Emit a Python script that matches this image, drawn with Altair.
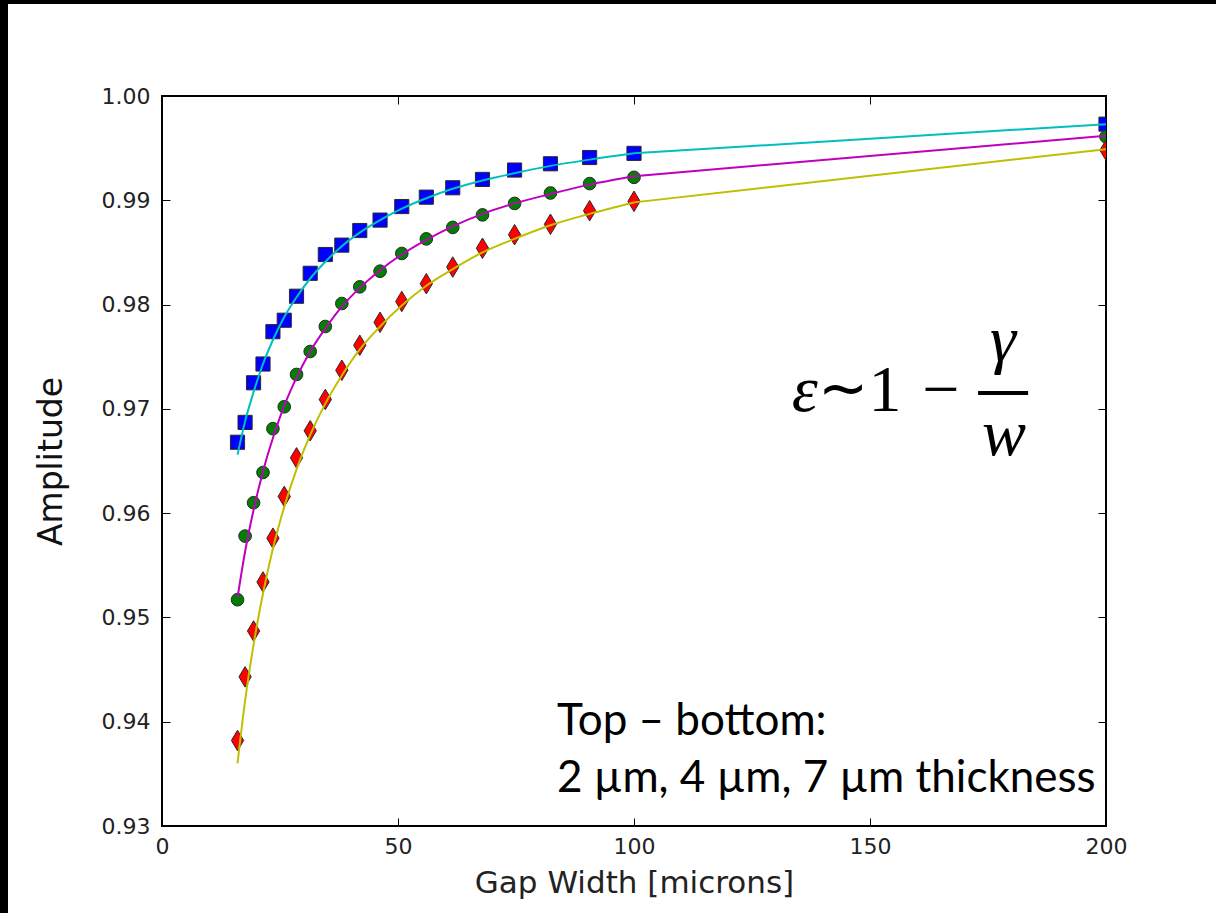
import altair as alt
import pandas as pd

# ---- data ----
gap_width = [16, 17.6, 19.4, 21.4, 23.5, 25.9, 28.5, 31.4, 34.6, 38.1, 41.9,
             46.2, 50.8, 56.0, 61.6, 67.9, 74.7, 82.3, 90.6, 100, 200]
amp_2um = [0.9668, 0.9687, 0.9725, 0.9743, 0.9774, 0.9785, 0.9808, 0.9830, 0.9848, 0.9857, 0.9871,
           0.9881, 0.9894, 0.9903, 0.9912, 0.9920, 0.9929, 0.9935, 0.9941, 0.9945, 0.9973]
amp_4um = [0.9517, 0.9578, 0.9610, 0.9639, 0.9681, 0.9702, 0.9733, 0.9755, 0.9779, 0.9801, 0.9817,
           0.9832, 0.9849, 0.9863, 0.9874, 0.9886, 0.9897, 0.9907, 0.9916, 0.9922, 0.9961]
amp_7um = [0.9382, 0.9443, 0.9487, 0.9534, 0.9576, 0.9616, 0.9653, 0.9679, 0.9709, 0.9737, 0.9761,
           0.9783, 0.9803, 0.9820, 0.9836, 0.9854, 0.9867, 0.9877, 0.9890, 0.9899, 0.9948]
fit_2um = [0.9656, 0.9688, 0.9716, 0.9743, 0.9766, 0.9788, 0.9807, 0.9825, 0.9841, 0.9856, 0.9869,
           0.9881, 0.9892, 0.9902, 0.9911, 0.9919, 0.9926, 0.9933, 0.9939, 0.9945, 0.9973]
fit_4um = [0.9519, 0.9563, 0.9603, 0.9640, 0.9672, 0.9703, 0.9730, 0.9755, 0.9777, 0.9798, 0.9816,
           0.9833, 0.9848, 0.9862, 0.9875, 0.9887, 0.9897, 0.9906, 0.9915, 0.9923, 0.9962]
fit_7um = [0.9360, 0.9420, 0.9474, 0.9523, 0.9566, 0.9606, 0.9642, 0.9675, 0.9705, 0.9732, 0.9757,
           0.9779, 0.9799, 0.9818, 0.9834, 0.9850, 0.9863, 0.9876, 0.9887, 0.9898, 0.9949]

x_ticks = [0, 50, 100, 150, 200]
y_ticks = [0.93, 0.94, 0.95, 0.96, 0.97, 0.98, 0.99, 1.00]

marker_shapes = ["square", "circle", "M0,-1L0.6,0L0,1L-0.6,0Z"]
marker_fills = ["#0000ff", "#008000", "#ff0000"]
marker_sizes = [200, 160, 420]
line_colors = ["#00bfbf", "#bf00bf", "#bfbf00"]

note_line1 = "Top \u2013 bottom:"
note_line2 = "2 \u00b5m, 4 \u00b5m, 7 \u00b5m thickness"

W, H = 944, 730
xs = alt.Scale(domain=[0, 200], nice=False, zero=False)
ys = alt.Scale(domain=[0.93, 1.00], nice=False, zero=False)

common_axis = dict(offset=-8, tickSize=8, tickColor="black", tickWidth=1,
                   domain=False, grid=False)
ax_bottom = alt.Axis(orient="bottom", values=x_ticks, format="d", labelFlush=False,
                     labelFont="DejaVu Sans", labelFontSize=22, labelColor="#222",
                     labelPadding=10, title="Gap Width [microns]", titleFont="DejaVu Sans",
                     titleFontSize=31, titleFontWeight="normal", titleColor="#222",
                     titlePadding=11, **common_axis)
ax_left = alt.Axis(orient="left", values=y_ticks, format=".2f",
                   labelFont="DejaVu Sans", labelFontSize=22, labelColor="#222",
                   labelPadding=12, title="Amplitude", titleFont="DejaVu Sans",
                   titleFontSize=33, titleFontWeight="normal", titleColor="#111",
                   titlePadding=33, **common_axis)
ax_top = alt.Axis(orient="top", values=x_ticks, labels=False, title=None, **common_axis)
ax_right = alt.Axis(orient="right", values=y_ticks, labels=False, title=None, **common_axis)

series = [amp_2um, amp_4um, amp_7um]
fits = [fit_2um, fit_4um, fit_7um]

layers = []
for i, vals in enumerate(series):
    df = pd.DataFrame({"gap": gap_width, "amp": vals})
    layers.append(
        alt.Chart(df).mark_point(filled=True, shape=marker_shapes[i], size=marker_sizes[i],
                                 fill=marker_fills[i], stroke="#2a2a2a", strokeWidth=1,
                                 opacity=1, clip=True)
        .encode(x=alt.X("gap:Q", scale=xs, axis=ax_bottom if i == 0 else None),
                y=alt.Y("amp:Q", scale=ys, axis=ax_left if i == 0 else None))
    )
for i, vals in enumerate(fits):
    df = pd.DataFrame({"gap": gap_width, "amp": vals})
    # smooth fitted curve over the dense range
    layers.append(
        alt.Chart(df).transform_filter(alt.datum.gap <= 100)
        .mark_line(color=line_colors[i], strokeWidth=2, interpolate="monotone", clip=True)
        .encode(x=alt.X("gap:Q", scale=xs, axis=ax_top if i == 0 else None),
                y=alt.Y("amp:Q", scale=ys, axis=ax_right if i == 0 else None))
    )
    # straight segment to the last sample
    layers.append(
        alt.Chart(df).transform_filter(alt.datum.gap >= 100)
        .mark_line(color=line_colors[i], strokeWidth=2, clip=True)
        .encode(x=alt.X("gap:Q", scale=xs, axis=None),
                y=alt.Y("amp:Q", scale=ys, axis=None))
    )

# annotation texts (positions in data units)
notes = pd.DataFrame({"gap": [83.7, 83.7], "amp": [0.93872, 0.93330], "txt": [note_line1, note_line2]})
layers.append(
    alt.Chart(notes).mark_text(align="left", baseline="alphabetic", font="Lato", fontSize=44, color="black")
    .encode(x=alt.X("gap:Q", scale=xs, axis=None), y=alt.Y("amp:Q", scale=ys, axis=None), text="txt:N")
)

eq_upright = pd.DataFrame({"gap": [153.2, 165.0], "amp": [0.96979, 0.96979],
                           "txt": ["1", "\u2212"]})
eq_tilde = pd.DataFrame({"gap": [144.3], "amp": [0.96998], "txt": ["~"]})
eq_italic = pd.DataFrame({"gap": [136.2, 178.2, 178.4], "amp": [0.96979, 0.97459, 0.96557],
                          "txt": ["\u03b5", "\u03b3", "w"]})
layers.append(
    alt.Chart(eq_upright).mark_text(align="center", baseline="alphabetic", font="Liberation Serif",
                                    fontSize=66, color="black")
    .encode(x=alt.X("gap:Q", scale=xs, axis=None), y=alt.Y("amp:Q", scale=ys, axis=None), text="txt:N")
)
layers.append(
    alt.Chart(eq_tilde).mark_text(align="center", baseline="alphabetic", font="DejaVu Sans",
                                  fontSize=60, color="black")
    .encode(x=alt.X("gap:Q", scale=xs, axis=None), y=alt.Y("amp:Q", scale=ys, axis=None), text="txt:N")
)
layers.append(
    alt.Chart(eq_italic).mark_text(align="center", baseline="alphabetic", font="Liberation Serif",
                                   fontStyle="italic", fontSize=66, color="black")
    .encode(x=alt.X("gap:Q", scale=xs, axis=None), y=alt.Y("amp:Q", scale=ys, axis=None), text="txt:N")
)
frac = pd.DataFrame({"x1": [172.9], "x2": [183.5], "amp": [0.97152]})
layers.append(
    alt.Chart(frac).mark_rule(color="black", strokeWidth=4)
    .encode(x=alt.X("x1:Q", scale=xs, axis=None), x2="x2:Q", y=alt.Y("amp:Q", scale=ys, axis=None))
)

# slide's black edge (decoration)
edge = pd.DataFrame({"k": [0]})
layers.append(
    alt.Chart(edge).mark_rect(color="black")
    .encode(x=alt.value(-162), x2=alt.value(-154), y=alt.value(-96), y2=alt.value(H + 87))
)
layers.append(
    alt.Chart(edge).mark_rect(color="black")
    .encode(x=alt.value(-162), x2=alt.value(W + 110), y=alt.value(-96), y2=alt.value(-92))
)

chart = (
    alt.layer(*layers)
    .resolve_axis(x="independent", y="independent")
    .properties(width=W, height=H, autosize=alt.AutoSizeParams(type="none"),
                padding={"left": 162, "top": 96, "right": 110, "bottom": 87},
                background="white")
    .configure_view(stroke="black", strokeWidth=2)
)

chart.save("out.html", embed_options={"renderer": "svg", "actions": False})
